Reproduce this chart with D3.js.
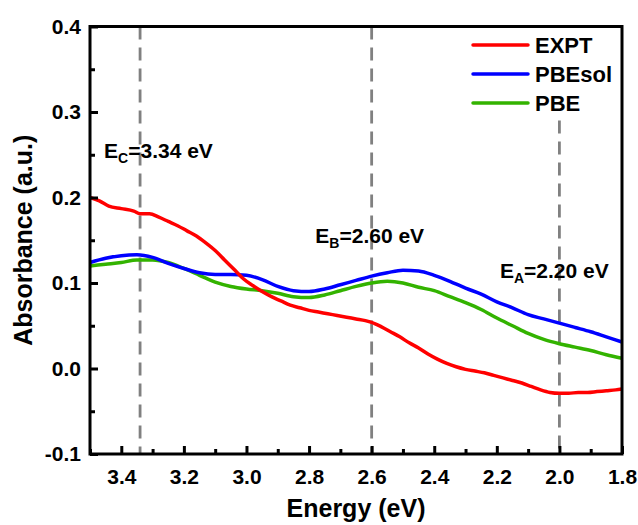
<!DOCTYPE html>
<html>
<head>
<meta charset="utf-8">
<script src="https://cdn.jsdelivr.net/npm/d3@7"></script>
<style>
  body { margin: 0; background: #fff; }
  svg text { font-family: "Liberation Sans", Arial, sans-serif; font-weight: bold; fill: #000; }
</style>
</head>
<body>
<svg id="chart" width="638" height="525"></svg>
<script>
// --- data ---
var exptX = [3.50,3.47,3.44,3.40,3.36,3.34,3.31,3.28,3.25,3.22,3.19,3.16,3.13,3.10,3.07,3.04,3.01,2.98,2.95,2.92,2.89,2.86,2.83,2.80,2.77,2.74,2.71,2.68,2.65,2.62,2.60,2.57,2.54,2.51,2.48,2.45,2.42,2.39,2.36,2.33,2.30,2.27,2.24,2.21,2.18,2.15,2.12,2.09,2.06,2.03,2.00,1.97,1.94,1.91,1.88,1.85,1.82,1.80];
var exptY = [0.200,0.196,0.190,0.187,0.184,0.181,0.181,0.177,0.172,0.167,0.161,0.155,0.147,0.138,0.127,0.116,0.105,0.097,0.090,0.084,0.079,0.074,0.071,0.068,0.066,0.064,0.062,0.060,0.058,0.056,0.054,0.049,0.043,0.037,0.030,0.024,0.017,0.011,0.006,0.002,-0.001,-0.003,-0.005,-0.008,-0.011,-0.014,-0.017,-0.021,-0.025,-0.028,-0.029,-0.029,-0.028,-0.028,-0.027,-0.026,-0.025,-0.024];

var calcX = [3.50,3.45,3.40,3.35,3.30,3.25,3.20,3.15,3.10,3.05,3.00,2.95,2.90,2.85,2.80,2.75,2.70,2.65,2.60,2.55,2.50,2.45,2.40,2.35,2.30,2.25,2.20,2.15,2.10,2.05,2.00,1.95,1.90,1.85,1.80];
var pbesolY = [0.124,0.129,0.132,0.133,0.130,0.123,0.117,0.112,0.110,0.110,0.109,0.104,0.096,0.091,0.090,0.093,0.098,0.103,0.108,0.112,0.115,0.114,0.109,0.102,0.094,0.087,0.078,0.071,0.063,0.058,0.053,0.048,0.043,0.037,0.031];
var pbeY = [0.120,0.122,0.124,0.127,0.127,0.124,0.117,0.109,0.101,0.096,0.093,0.091,0.088,0.084,0.083,0.086,0.091,0.096,0.100,0.102,0.100,0.095,0.091,0.084,0.077,0.069,0.059,0.050,0.041,0.034,0.029,0.025,0.021,0.016,0.012];

var seriesNames = ["EXPT", "PBEsol", "PBE"];
var seriesColors = ["#ff0000", "#0000ff", "#33b300"];

var xTicks = [3.4, 3.2, 3.0, 2.8, 2.6, 2.4, 2.2, 2.0, 1.8];
var xMinor = [3.5, 3.3, 3.1, 2.9, 2.7, 2.5, 2.3, 2.1, 1.9];
var yTicks = [-0.1, 0.0, 0.1, 0.2, 0.3, 0.4];
var yMinor = [-0.05, 0.05, 0.15, 0.25, 0.35];

var markerE = [3.34, 2.60, 2.00];
var markerTop = [0.4, 0.4, 0.29];
var labelMain = ["E", "E", "E"];
var labelSub = ["C", "B", "A"];
var labelRest = ["=3.34 eV", "=2.60 eV", "=2.20 eV"];
var labelAt = [[3.455, 0.246], [2.78, 0.147], [2.19, 0.106]];

// --- layout ---
var svg = d3.select("#chart");
var pLeft = 90, pRight = 622, pTop = 26.5, pBottom = 454;

var x = d3.scaleLinear().domain([3.5, 1.8]).range([pLeft, pRight]);
var y = d3.scaleLinear().domain([-0.1, 0.4]).range([pBottom, pTop]);

// dashed markers
svg.selectAll(".marker").data(markerE).enter().append("line")
  .attr("class", "marker")
  .attr("x1", function(d) { return x(d); }).attr("x2", function(d) { return x(d); })
  .attr("y1", function(d, i) { return y(markerTop[i]); })
  .attr("y2", pBottom)
  .attr("stroke", "#808080").attr("stroke-width", 2.8)
  .attr("stroke-dasharray", "13,8");

// curves
var line = d3.line().x(function(d) { return x(d[0]); }).y(function(d) { return y(d[1]); }).curve(d3.curveMonotoneX);
var curves = [d3.zip(exptX, exptY), d3.zip(calcX, pbesolY), d3.zip(calcX, pbeY)];
[2, 1, 0].forEach(function(i) {
  svg.append("path").datum(curves[i])
    .attr("d", line)
    .attr("fill", "none")
    .attr("stroke", seriesColors[i])
    .attr("stroke-width", 3.5)
    .attr("stroke-linejoin", "round");
});

// axes, ticks pointing inward
var fmt = function(d) { return d.toFixed(1); };
svg.append("g").attr("transform", "translate(0," + pBottom + ")")
  .call(d3.axisBottom(x).tickValues(xTicks).tickFormat(fmt).tickSize(-8).tickPadding(15));
svg.append("g").attr("transform", "translate(0," + pBottom + ")")
  .call(d3.axisBottom(x).tickValues(xMinor).tickFormat("").tickSize(-5));
svg.append("g").attr("transform", "translate(" + pLeft + ",0)")
  .call(d3.axisLeft(y).tickValues(yTicks).tickFormat(fmt).tickSize(-8).tickPadding(9));
svg.append("g").attr("transform", "translate(" + pLeft + ",0)")
  .call(d3.axisLeft(y).tickValues(yMinor).tickFormat("").tickSize(-5));

svg.selectAll(".domain").remove();
svg.selectAll(".tick line").attr("stroke", "#000").attr("stroke-width", 3);
svg.selectAll(".tick text").style("font-size", "21px");

// frame
svg.append("rect")
  .attr("x", pLeft).attr("y", pTop)
  .attr("width", pRight - pLeft).attr("height", pBottom - pTop)
  .attr("fill", "none").attr("stroke", "#000").attr("stroke-width", 3);

// axis titles
svg.append("text")
  .attr("x", (pLeft + pRight) / 2).attr("y", 517)
  .attr("text-anchor", "middle").style("font-size", "25px")
  .text("Energy (eV)");
svg.append("text")
  .attr("transform", "translate(32," + (pTop + pBottom) / 2 + ") rotate(-90)")
  .attr("text-anchor", "middle").style("font-size", "25px")
  .text("Absorbance (a.u.)");

// annotations
labelMain.forEach(function(m, i) {
  var t = svg.append("text")
    .attr("x", x(labelAt[i][0])).attr("y", y(labelAt[i][1]))
    .style("font-size", "21px");
  t.append("tspan").text(m);
  t.append("tspan").attr("dy", 5).style("font-size", "14px").text(labelSub[i]);
  t.append("tspan").attr("dy", -5).text(labelRest[i]);
});

// legend
var legend = svg.append("g").attr("transform", "translate(473,45)");
seriesNames.forEach(function(name, i) {
  legend.append("line")
    .attr("x1", 0).attr("x2", 55)
    .attr("y1", i * 29).attr("y2", i * 29)
    .attr("stroke", seriesColors[i]).attr("stroke-width", 3.5)
    .attr("stroke-linecap", "round");
  legend.append("text")
    .attr("x", 62).attr("y", i * 29 + 8)
    .style("font-size", "22px")
    .text(name);
});
</script>
</body>
</html>
